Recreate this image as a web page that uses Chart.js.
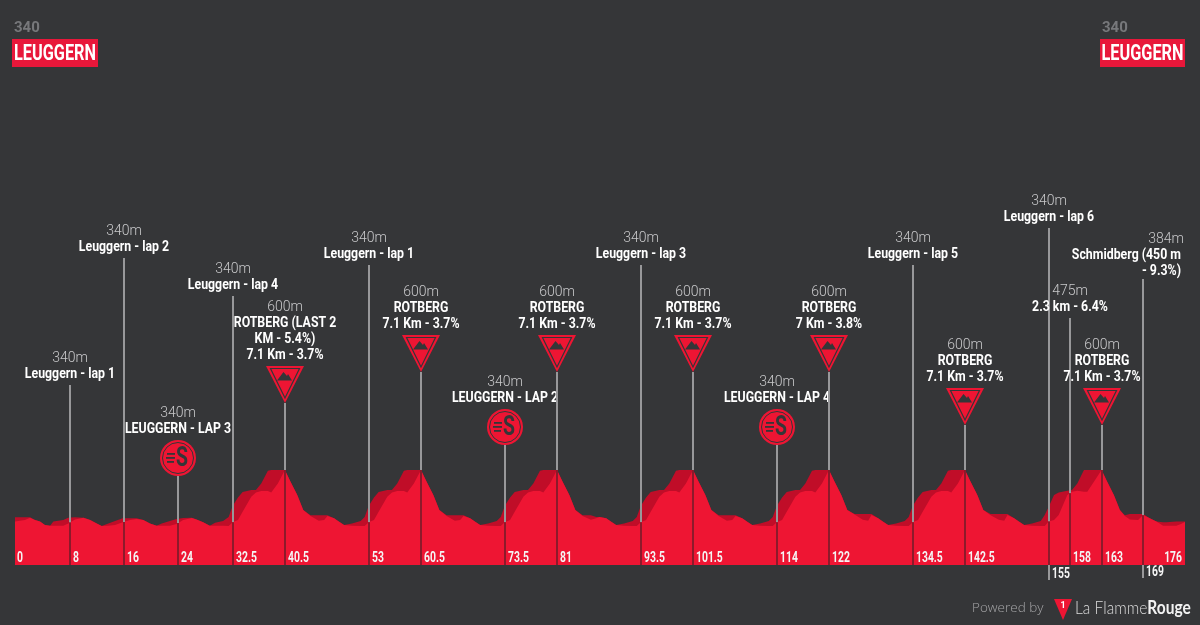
<!DOCTYPE html>
<html>
<head>
<meta charset="utf-8">
<title>Leuggern - profile</title>
<script src="https://cdn.jsdelivr.net/npm/chart.js@4/dist/chart.umd.min.js"></script>
<style>
  html, body { margin:0; padding:0; background:#353638; }
  canvas { display:block; }
</style>
</head>
<body>
<canvas id="profile" width="1200" height="625"></canvas>
<script>
// ---------- data ----------
const profileKm = [
  0,1.5,2.26,3,3.76,4.5,5.27,5.77,7.27,8,9.03,10.3,11.3,12.3,13.04,14.04,15.05,16.2,17.3,18.3,19.3,20.3,21.3,22.07,23.3,24.3,25.3,26.6,27.3,28.3,29.3,30.1,31.3,
  32.14,32.74,33.54,34.24,35.54,36.24,37.04,38.04,38.54,39.54,
  40.6,41.45,42.46,43.36,44.46,45.7,46.5,47,48,48.7,49.5,50.7,52,52.6,53.2,54,54.7,56,56.7,57.5,58.5,59,60,
  61.07,61.92,62.93,63.83,64.93,66.17,66.97,67.47,68.47,69.17,69.97,71.17,72.47,73.07,73.67,74.47,75.17,76.47,77.17,77.97,78.97,79.47,80.47,
  81.53,82.38,83.39,84.29,85.39,86.63,87.43,87.93,88.93,89.63,90.43,91.63,92.93,93.53,94.13,94.93,95.63,96.93,97.63,98.43,99.43,99.93,100.93,
  101.99,102.84,103.85,104.75,105.85,107.09,107.89,108.39,109.39,110.09,110.89,112.09,113.39,113.99,114.59,115.39,116.09,117.39,118.09,118.89,119.89,120.39,121.39,
  122.44,123.29,124.3,125.2,126.3,127.54,128.34,128.84,129.84,130.54,131.34,132.54,133.84,134.44,135.04,135.84,136.54,137.84,138.54,139.34,140.34,140.84,141.84,
  142.9,143.75,144.76,145.66,146.76,148,148.8,149.3,150.3,151,151.8,153,154.3,154.9,155.5,156.3,157,158.3,159,159.8,160.8,161.3,162.3,
  163.45,164.3,165.3,166.2,166.95,167.7,168.95,169.7,170.7,171.7,172.7,173.2,174.7,175.4,176
];
const frontElev = [
  320,329,341,329,320,301,298,298,298,310,332,341,329,310,296,298,301,316,329,334,329,310,298,298,298,307,329,339,332,316,298,298,298,
  296,316,329,374,455,477,486,486,477,527,
  600,536,464,383,350,325,329,350,338,320,301,298,296,296,316,329,374,455,477,486,486,477,527,
  600,536,464,383,350,325,329,350,338,320,301,298,296,296,316,329,374,455,477,486,486,477,527,
  600,536,464,383,350,330,338,345,338,320,301,298,296,296,316,329,374,455,477,486,486,477,527,
  600,536,464,383,350,325,329,350,338,320,301,298,296,296,316,329,374,455,477,486,486,477,527,
  600,536,464,383,358,330,325,356,338,320,301,298,296,296,316,329,374,455,477,486,486,477,527,
  600,536,464,383,354,330,325,356,338,320,301,298,296,296,320,329,356,464,482,487,482,482,536,
  600,536,464,383,350,332,329,356,338,320,298,298,298,307,318
];
const backElev = [
  343,343,343,329,320,301,298,320,329,341,343,341,329,310,296,310,323,338,338,338,329,310,298,310,323,334,339,341,332,316,298,314,323,
  345,405,450,480,491,491,527,596,600,600,
  600,536,464,383,354,354,354,354,338,320,301,310,323,345,405,450,480,491,491,527,596,600,600,
  600,536,464,383,354,354,354,354,338,320,301,310,323,345,405,450,480,491,491,527,596,600,600,
  600,536,464,383,354,354,345,345,338,320,301,310,323,345,405,450,480,491,491,527,596,600,600,
  600,536,464,383,354,354,354,354,338,320,301,310,323,345,405,450,480,491,491,527,596,600,600,
  600,536,464,383,361,361,361,361,338,320,301,310,323,345,405,450,480,491,491,527,596,600,600,
  600,536,464,383,361,361,361,361,338,320,301,310,323,356,401,464,477,487,491,527,600,600,600,
  600,536,464,383,354,361,361,361,338,320,316,316,320,320,320
];

// waypoints, in route order
const markerKm     = [8.27,16.4,24.52,32.79,40.61,53.25,61.07,73.71,81.53,94.16,101.99,114.62,122.44,135.08,142.9,155.53,158.69,163.45,169.67];
const markerKmText = ['8','16','24','32.5','40.5','53','60.5','73.5','81','93.5','101.5','114','122','134.5','142.5','155','158','163','169'];
const markerElevText = ['340m','340m','340m','340m','600m','340m','600m','340m','600m','340m','600m','340m','600m','340m','600m','340m','475m','600m','384m'];
const markerNames = [
  ['Leuggern - lap 1'],['Leuggern - lap 2'],['LEUGGERN - LAP 3'],['Leuggern - lap 4'],
  ['ROTBERG (LAST 2','KM - 5.4%)','7.1 Km - 3.7%'],['Leuggern - lap 1'],['ROTBERG','7.1 Km - 3.7%'],
  ['LEUGGERN - LAP 2'],['ROTBERG','7.1 Km - 3.7%'],['Leuggern - lap 3'],['ROTBERG','7.1 Km - 3.7%'],
  ['LEUGGERN - LAP 4'],['ROTBERG','7 Km - 3.8%'],['Leuggern - lap 5'],['ROTBERG','7.1 Km - 3.7%'],
  ['Leuggern - lap 6'],['2.3 km - 6.4%'],['ROTBERG','7.1 Km - 3.7%'],['Schmidberg (450 m','- 9.3%)']
];
const markerKinds = ['','','sprint','','climb','','climb','sprint','climb','','climb','sprint','climb','','climb','','','climb',''];
const startKmText = '0';
const finishKmText = '176';
const startName = 'LEUGGERN';
const startElevText = '340';

// ---------- layout (pixels, not data) ----------
const lineTops = [385,258,476,296,403,265,372,445,372,265,372,445,372,265,425,228,318,425,279];
const RED = '#ee1533', DARK_RED = '#c00d28', BG = '#353638';
const NAME_FONT = 'bold 14.5px Roboto, sans-serif';
const ELEV_FONT = '300 14px Roboto, sans-serif';
const NAME_SQUEEZE = 0.85;

// ---------- helpers ----------
function frontAt(km){
  for (let i = 1; i < profileKm.length; i++) {
    if (km <= profileKm[i]) {
      const t = (km - profileKm[i-1]) / (profileKm[i] - profileKm[i-1]);
      return frontElev[i-1] + t * (frontElev[i] - frontElev[i-1]);
    }
  }
  return frontElev[frontElev.length - 1];
}

// Pas de police condensée installée : on serre le Roboto à la main.
function squeezedText(ctx, text, x, y, squeeze){
  ctx.save();
  ctx.translate(x, y);
  ctx.scale(squeeze, 1);
  ctx.fillText(text, 0, 0);
  ctx.restore();
}

function drawClimbSign(ctx, x, tip){
  const top = tip - 37;
  ctx.fillStyle = RED;
  ctx.beginPath(); ctx.moveTo(x-19, top); ctx.lineTo(x+19, top); ctx.lineTo(x, tip); ctx.closePath(); ctx.fill();
  ctx.strokeStyle = BG; ctx.lineWidth = 1.2;
  ctx.beginPath(); ctx.moveTo(x-14.5, top+2.5); ctx.lineTo(x+14.5, top+2.5); ctx.lineTo(x, tip-5); ctx.closePath(); ctx.stroke();
  ctx.fillStyle = BG;
  ctx.beginPath(); ctx.moveTo(x-8, top+14.5); ctx.lineTo(x-1.5, top+6); ctx.lineTo(x+2, top+10);
  ctx.lineTo(x+3, top+8); ctx.lineTo(x+7, top+14.5); ctx.closePath(); ctx.fill();
}

function drawSprintSign(ctx, x, cy){
  ctx.fillStyle = RED;
  ctx.beginPath(); ctx.arc(x, cy, 18, 0, Math.PI*2); ctx.fill();
  ctx.strokeStyle = BG; ctx.lineWidth = 1;
  ctx.beginPath(); ctx.arc(x, cy, 15.5, 0, Math.PI*2); ctx.stroke();
  ctx.fillStyle = BG;
  ctx.font = 'bold 27px Roboto, sans-serif';
  ctx.textAlign = 'center'; ctx.textBaseline = 'middle';
  squeezedText(ctx, 'S', x+4, cy+1, 0.72);
  ctx.fillRect(x-11, cy-5, 8, 1.8);
  ctx.fillRect(x-12, cy-1, 9, 1.8);
  ctx.fillRect(x-11, cy+3, 7, 1.8);
}

function drawKmLabel(ctx, text, x, y, align){
  ctx.font = 'bold 14px Roboto, sans-serif';
  ctx.fillStyle = '#f4f4f4';
  ctx.textAlign = align || 'left'; ctx.textBaseline = 'middle';
  squeezedText(ctx, text, x, y, 0.74);
}

function drawEndpoint(ctx, left, width){
  ctx.fillStyle = '#77787b';
  ctx.font = 'bold 15px Roboto, sans-serif';
  ctx.textAlign = 'left'; ctx.textBaseline = 'middle';
  ctx.fillText(startElevText, left+2, 28.5);
  ctx.fillStyle = '#e8173a';
  ctx.fillRect(left, 39, width, 28);
  ctx.fillStyle = '#ffffff';
  ctx.font = 'bold 22px Roboto, sans-serif';
  ctx.textAlign = 'center';
  squeezedText(ctx, startName, left+width/2, 54, 0.74);
}

// ---------- overlay: waypoint lines, signs, texts ----------
const overlay = {
  id: 'overlay',
  afterDatasetsDraw(chart){
    const { ctx, scales:{ x:sx, y:sy } } = chart;
    const base = sy.bottom;
    ctx.save();
    markerKm.forEach((km, i) => {
      const x = Math.round(sx.getPixelForValue(km));
      const surf = sy.getPixelForValue(frontAt(km));
      const top = lineTops[i];
      ctx.lineWidth = 2;
      ctx.strokeStyle = '#98989a';
      ctx.beginPath(); ctx.moveTo(x, top); ctx.lineTo(x, surf); ctx.stroke();
      ctx.strokeStyle = '#8c1a2b';
      ctx.beginPath(); ctx.moveTo(x, surf); ctx.lineTo(x, base); ctx.stroke();

      // text stack above line / sign
      let textBottom = top;
      if (markerKinds[i] === 'climb') { drawClimbSign(ctx, x, top); textBottom = top - 37; }
      if (markerKinds[i] === 'sprint') {
        drawSprintSign(ctx, x, top - 18); textBottom = top - 36;
      }
      const names = markerNames[i];
      const isLast = i === markerKm.length - 1;
      const gap = isLast ? 8 : 11;
      ctx.textBaseline = 'middle';
      ctx.fillStyle = '#ffffff';
      ctx.font = NAME_FONT;
      ctx.textAlign = isLast ? 'right' : 'center';
      const tx = isLast ? 1181 : x;
      names.forEach((line, j) => {
        squeezedText(ctx, line, tx, textBottom - gap - (names.length-1-j)*16, NAME_SQUEEZE);
      });
      ctx.fillStyle = '#c9c9cb';
      ctx.font = ELEV_FONT;
      ctx.textAlign = isLast ? 'right' : 'center';
      ctx.fillText(markerElevText[i], isLast ? 1184 : x, textBottom - gap - names.length*16);

      // km label
      const low = i === 15 || i === 18;
      if (low) {
        ctx.strokeStyle = '#98989a'; ctx.lineWidth = 2;
        const end = i === 15 ? 580 : 578;
        ctx.beginPath(); ctx.moveTo(x, base); ctx.lineTo(x, end); ctx.stroke();
        drawKmLabel(ctx, markerKmText[i], x+3, i === 15 ? 574.5 : 572.5);
      } else {
        drawKmLabel(ctx, markerKmText[i], x+3, 558);
      }
    });
    drawKmLabel(ctx, startKmText, sx.getPixelForValue(0)+2, 558);
    drawKmLabel(ctx, finishKmText, sx.getPixelForValue(176)-3, 558, 'right');

    drawEndpoint(ctx, 12, 86);
    drawEndpoint(ctx, 1100, 85);

    // footer
    ctx.fillStyle = '#a6a6a8';
    ctx.font = '300 13.5px "Open Sans", sans-serif';
    ctx.textAlign = 'left'; ctx.textBaseline = 'middle';
    ctx.fillText('Powered by', 972, 608);
    ctx.fillStyle = RED;
    ctx.beginPath(); ctx.moveTo(1054, 599); ctx.lineTo(1072, 599); ctx.lineTo(1063, 620); ctx.closePath(); ctx.fill();
    ctx.fillStyle = '#ffffff';
    ctx.font = 'bold 9px Roboto, sans-serif';
    ctx.textAlign = 'center';
    ctx.fillText('1', 1063, 606);
    ctx.textAlign = 'left';
    ctx.fillStyle = '#dcdcdc';
    ctx.font = '300 18.5px Lato, sans-serif';
    squeezedText(ctx, 'La Flamme', 1075, 608, 0.84);
    const w = ctx.measureText('La Flamme').width * 0.84;
    ctx.fillStyle = '#f2f2f2';
    ctx.font = 'bold 18.5px Lato, sans-serif';
    squeezedText(ctx, 'Rouge', 1075 + w, 608, 0.84);
    ctx.restore();
  }
};

// ---------- chart ----------
new Chart(document.getElementById('profile').getContext('2d'), {
  type: 'line',
  data: {
    labels: profileKm,
    datasets: [
      { label:'front', data: frontElev, borderWidth:0, pointRadius:0, tension:0, fill:'origin', backgroundColor:RED, order:1 },
      { label:'back',  data: backElev,  borderWidth:0, pointRadius:0, tension:0, fill:'origin', backgroundColor:DARK_RED, order:2 }
    ]
  },
  options: {
    responsive:false, animation:false, devicePixelRatio:1,
    layout:{ padding:{ left:15, right:15, top:5, bottom:60 } },
    plugins:{ legend:{ display:false }, tooltip:{ enabled:false } },
    scales:{
      x:{ type:'linear', min:0, max:176, display:false },
      y:{ min:85, max:3118, display:false }
    }
  },
  plugins:[ overlay ]
});
</script>
</body>
</html>
